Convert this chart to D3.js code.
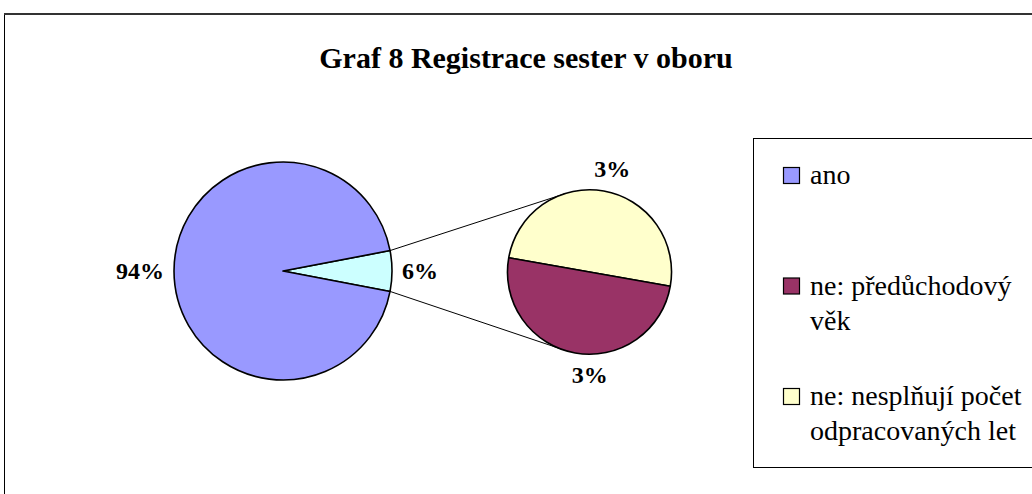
<!DOCTYPE html>
<html>
<head>
<meta charset="utf-8">
<script src="https://cdn.jsdelivr.net/npm/d3@7"></script>
<style>
    body { margin: 0; background: #fff; }
    svg { display: block; }
</style>
</head>
<body>
<div id="chart"></div>
<script>
// main pie: share of nurses registered in their field
var mainLabels = ["ne", "ano"];
var mainValues = [6, 94];
// secondary pie splits the "ne" slice
var subLabels = ["ne: nesplňují počet odpracovaných let", "ne: předůchodový věk"];
var subValues = [3, 3];
var legendLines = [["ano"], ["ne: předůchodový", "věk"], ["ne: nesplňují počet", "odpracovaných let"]];
var legendColors = ["#9999FF", "#993366", "#FFFFCC"];
var title = "Graf 8 Registrace sester v oboru";

var width = 1032, height = 494;
var mainColors = { "ne": "#CCFFFF", "ano": "#9999FF" };
var subColors = ["#FFFFCC", "#993366"];
var serif = "Liberation Serif";

var svg = d3.select("#chart").append("svg")
    .attr("width", width)
    .attr("height", height);

// chart frame
svg.append("rect")
    .attr("x", 4.5).attr("y", 14)
    .attr("width", width + 10).attr("height", height + 10)
    .attr("fill", "#fff")
    .attr("stroke", "#000")
    .attr("stroke-width", 1);
svg.append("line")
    .attr("x1", 4).attr("x2", width)
    .attr("y1", 14).attr("y2", 14)
    .attr("stroke", "#333")
    .attr("stroke-width", 2);

svg.append("text")
    .attr("x", 526)
    .attr("y", 68)
    .attr("text-anchor", "middle")
    .attr("font-family", serif)
    .attr("font-size", 30)
    .attr("font-weight", "bold")
    .text(title);

var mainCx = 283, mainCy = 271, mainR = 109;
var subCx = 589.5, subCy = 272, subR = 82;

var total = d3.sum(mainValues);
var half = Math.PI * mainValues[0] / total; // half the "ne" angle

var mainPie = d3.pie().sort(null)
    .startAngle(Math.PI / 2 - half)
    .endAngle(Math.PI / 2 - half + 2 * Math.PI);
var mainArcs = mainPie(mainValues);
var mainArc = d3.arc().innerRadius(0).outerRadius(mainR);

var subPie = d3.pie().sort(null)
    .startAngle(-80 * Math.PI / 180)
    .endAngle(-80 * Math.PI / 180 + 2 * Math.PI);
var subArcs = subPie(subValues);
var subArc = d3.arc().innerRadius(0).outerRadius(subR);

// connector lines: from "ne" slice edge to tangents of the secondary pie
function polar(cx, cy, r, a) {
    return [cx + r * Math.sin(a), cy - r * Math.cos(a)];
}
var p1 = polar(mainCx, mainCy, mainR, mainArcs[0].startAngle);
var p2 = polar(mainCx, mainCy, mainR, mainArcs[0].endAngle);
function tangent(p, upper) {
    var dx = subCx - p[0], dy = subCy - p[1];
    var d = Math.sqrt(dx * dx + dy * dy);
    var base = Math.atan2(dy, dx);
    var off = Math.asin(subR / d);
    var a = upper ? base - off : base + off;
    var len = Math.sqrt(d * d - subR * subR);
    return [p[0] + len * Math.cos(a), p[1] + len * Math.sin(a)];
}
var connectors = [[p1, tangent(p1, true)], [p2, tangent(p2, false)]];
svg.append("g").selectAll("line").data(connectors).enter()
    .append("line")
    .attr("x1", function (d) { return d[0][0]; })
    .attr("y1", function (d) { return d[0][1]; })
    .attr("x2", function (d) { return d[1][0]; })
    .attr("y2", function (d) { return d[1][1]; })
    .attr("stroke", "#000")
    .attr("stroke-width", 1);

svg.append("g")
    .attr("transform", "translate(" + mainCx + "," + mainCy + ")")
    .selectAll("path").data(mainArcs).enter()
    .append("path")
    .attr("d", mainArc)
    .attr("fill", function (d, i) { return mainColors[mainLabels[i]]; })
    .attr("stroke", "#000")
    .attr("stroke-width", 1.6)
    .attr("stroke-linejoin", "round");

svg.append("g")
    .attr("transform", "translate(" + subCx + "," + subCy + ")")
    .selectAll("path").data(subArcs).enter()
    .append("path")
    .attr("d", subArc)
    .attr("fill", function (d, i) { return subColors[i]; })
    .attr("stroke", "#000")
    .attr("stroke-width", 1.6)
    .attr("stroke-linejoin", "round");

// percent labels placed just outside each slice
function pct(v) { return Math.round(v) + "%"; }
function addLabels(arcs, cx, cy, r, gap, shift) {
    arcs.forEach(function (d, i) {
        var mid = (d.startAngle + d.endAngle) / 2;
        var s = Math.sin(mid), c = Math.cos(mid);
        var p = polar(cx, cy, r + gap, mid);
        var anchor = s > 0.5 ? "start" : (s < -0.5 ? "end" : "middle");
        var dy = c > 0.5 ? "0em" : (c < -0.5 ? "0.7em" : "0.35em");
        svg.append("text")
            .attr("x", p[0] + (shift ? shift[i] : 0))
            .attr("y", p[1])
            .attr("dy", dy)
            .attr("text-anchor", anchor)
            .attr("font-family", serif)
            .attr("font-size", 24)
            .attr("font-weight", "bold")
            .text(pct(d.data));
    });
}
addLabels(mainArcs, mainCx, mainCy, mainR, 10);
addLabels(subArcs, subCx, subCy, subR, 14, [6, 17]);

// legend
var legend = svg.append("g");
legend.append("rect")
    .attr("x", 753.5).attr("y", 138.5)
    .attr("width", 300).attr("height", 329)
    .attr("fill", "#fff")
    .attr("stroke", "#000")
    .attr("stroke-width", 1);

var legendY = d3.scalePoint().domain(d3.range(legendLines.length)).range([184, 405]);
legendLines.forEach(function (lines, i) {
    var y = legendY(i);
    legend.append("rect")
        .attr("x", 783.5).attr("y", y - 16.5)
        .attr("width", 16).attr("height", 16)
        .attr("fill", legendColors[i])
        .attr("stroke", "#000")
        .attr("stroke-width", 1.2);
    var t = legend.append("text")
        .attr("x", 810)
        .attr("y", y)
        .attr("font-family", serif)
        .attr("font-size", 28);
    lines.forEach(function (line, j) {
        t.append("tspan")
            .attr("x", 810)
            .attr("dy", j === 0 ? 0 : 35)
            .text(line);
    });
});
</script>
</body>
</html>
